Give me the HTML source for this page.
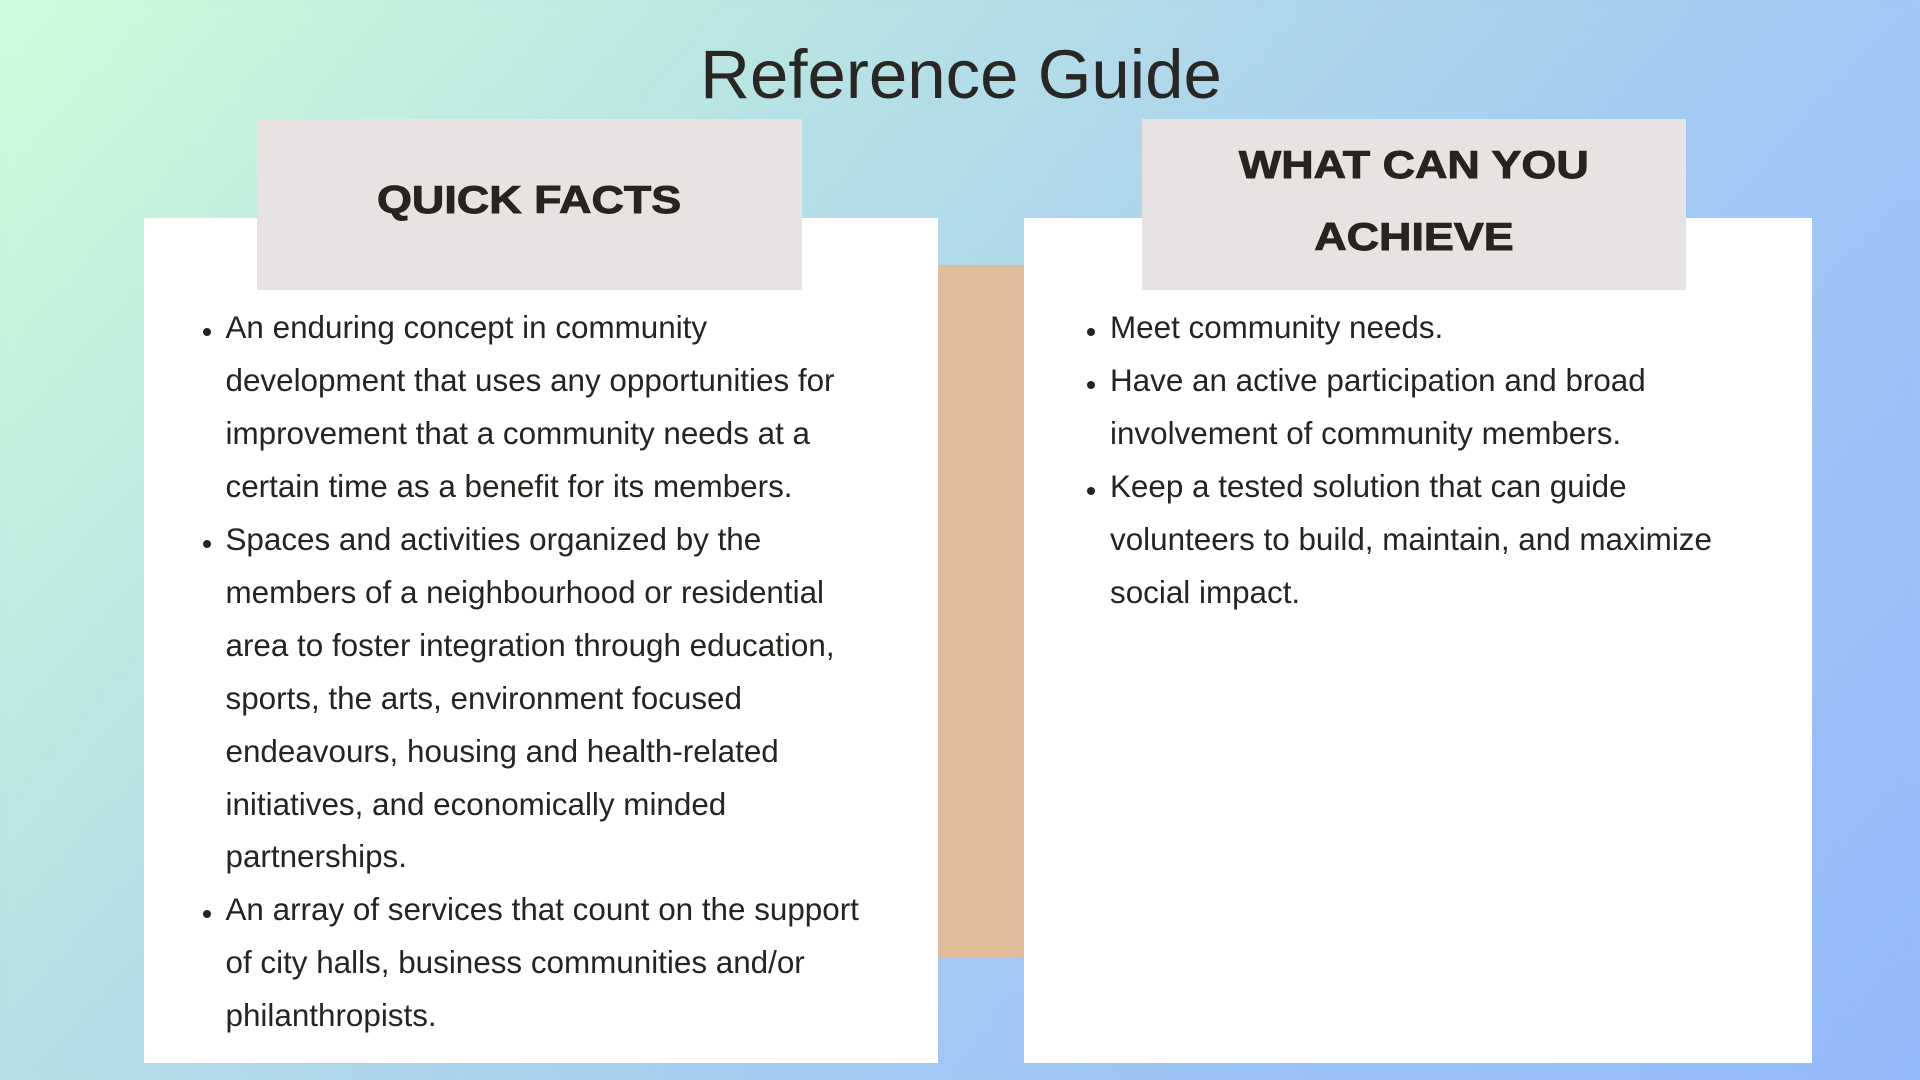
<!DOCTYPE html>
<html>
<head>
<meta charset="utf-8">
<style>
  html, body { margin:0; padding:0; }
  body {
    width:1920px; height:1080px; position:relative; overflow:hidden;
    background: linear-gradient(132deg, #cdfdd9 0%, #b5e0e6 33%, #a0c7f4 67%, #93b9fd 100%);
    font-family: "Liberation Sans", Arial, sans-serif;
    color:#262220;
  }
  .abs { position:absolute; }
  .title {
    position:absolute; left:0; width:1922px; top:40.2px;
    font-size:69px; line-height:69px; text-align:center; color:#2a2623;
    white-space:nowrap;
  }
  .panel { position:absolute; background:#ffffff; }
  .head { position:absolute; background:#e7e3e2; }
  .htxt {
    position:absolute; font-weight:bold; font-size:38.7px; line-height:38.7px;
    white-space:nowrap; text-align:center; color:#27231f;
    -webkit-text-stroke:0.9px #27231f;
  }
  .htxt span { display:inline-block; transform:scaleX(1.16); transform-origin:center; }
  .line {
    position:absolute; font-size:31.4px; line-height:52.9px; height:52.9px;
    white-space:nowrap; color:#272320;
  }
  .dot { position:absolute; width:8px; height:8px; border-radius:50%; background:#272320; }
</style>
</head>
<body>
  <div class="title">Reference Guide</div>

  <!-- orange connector bar -->
  <div class="abs" style="left:937px; top:265px; width:87px; height:692px; background:#e2bc99;"></div>

  <!-- left panel -->
  <div class="panel" style="left:144px; top:218px; width:794px; height:845px;"></div>
  <div class="head" style="left:257px; top:119px; width:545px; height:171px;"></div>
  <div class="htxt" style="left:257px; width:545px; top:182.2px;"><span>QUICK FACTS</span></div>

  <!-- right panel -->
  <div class="panel" style="left:1024px; top:218px; width:788px; height:845px;"></div>
  <div class="head" style="left:1142px; top:119px; width:544px; height:171px;"></div>
  <div class="htxt" style="left:1142px; width:544px; top:147px;"><span>WHAT CAN YOU</span></div>
  <div class="htxt" style="left:1142px; width:544px; top:218.6px;"><span>ACHIEVE</span></div>

  <!-- left text -->
  <div class="dot" style="left:202.7px; top:328px;"></div>
  <div class="line" style="left:225.5px; top:302.4px;">An enduring concept in community</div>
  <div class="line" style="left:225.5px; top:355.3px;">development that uses any opportunities for</div>
  <div class="line" style="left:225.5px; top:408.2px;">improvement that a community needs at a</div>
  <div class="line" style="left:225.5px; top:461.1px;">certain time as a benefit for its members.</div>
  <div class="dot" style="left:202.7px; top:539.6px;"></div>
  <div class="line" style="left:225.5px; top:514.0px;">Spaces and activities organized by the</div>
  <div class="line" style="left:225.5px; top:566.9px;">members of a neighbourhood or residential</div>
  <div class="line" style="left:225.5px; top:619.8px;">area to foster integration through education,</div>
  <div class="line" style="left:225.5px; top:672.7px;">sports, the arts, environment focused</div>
  <div class="line" style="left:225.5px; top:725.6px;">endeavours, housing and health-related</div>
  <div class="line" style="left:225.5px; top:778.5px;">initiatives, and economically minded</div>
  <div class="line" style="left:225.5px; top:831.4px;">partnerships.</div>
  <div class="dot" style="left:202.7px; top:909.8px;"></div>
  <div class="line" style="left:225.5px; top:884.3px;">An array of services that count on the support</div>
  <div class="line" style="left:225.5px; top:937.2px;">of city halls, business communities and/or</div>
  <div class="line" style="left:225.5px; top:990.1px;">philanthropists.</div>

  <!-- right text -->
  <div class="dot" style="left:1087px; top:328px;"></div>
  <div class="line" style="left:1110px; top:302.4px;">Meet community needs.</div>
  <div class="dot" style="left:1087px; top:381px;"></div>
  <div class="line" style="left:1110px; top:355.3px;">Have an active participation and broad</div>
  <div class="line" style="left:1110px; top:408.2px;">involvement of community members.</div>
  <div class="dot" style="left:1087px; top:487px;"></div>
  <div class="line" style="left:1110px; top:461.1px;">Keep a tested solution that can guide</div>
  <div class="line" style="left:1110px; top:514.0px;">volunteers to build, maintain, and maximize</div>
  <div class="line" style="left:1110px; top:566.9px;">social impact.</div>
</body>
</html>
